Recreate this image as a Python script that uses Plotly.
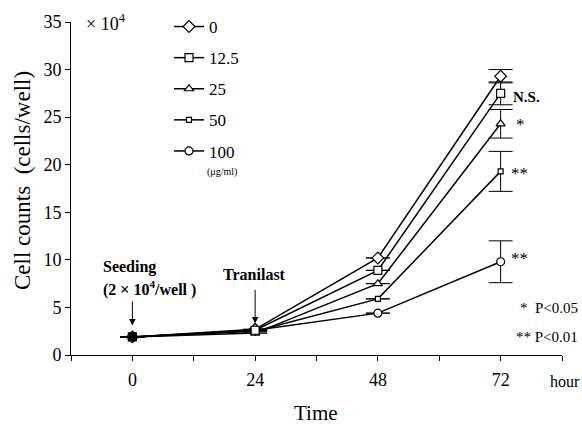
import plotly.graph_objects as go

hours = [0, 24, 48, 72]
doses = ["0", "12.5", "25", "50", "100"]
counts = {
    "0":    [1.9, 2.7, 10.2, 29.3],
    "12.5": [1.9, 2.6, 8.9, 27.5],
    "25":   [1.9, 2.3, 7.5, 24.3],
    "50":   [1.9, 2.5, 5.9, 19.3],
    "100":  [1.9, 2.6, 4.4, 9.8],
}
errors = {
    "0":    [None, None, None, 0.7],
    "12.5": [None, None, None, 1.2],
    "25":   [None, None, None, 1.5],
    "50":   [None, None, None, 2.1],
    "100":  [None, None, None, 2.2],
}
x_ticks = [-12, 0, 12, 24, 36, 48, 60, 72, 84]
x_ticktext = ["", "0", "", "24", "", "48", "", "72", ""]
y_ticks = [0, 5, 10, 15, 20, 25, 30, 35]

symbols = {"0": "diamond", "12.5": "square", "25": "triangle-up",
           "50": "square", "100": "circle"}
sizes = {"0": 9, "12.5": 8, "25": 8, "50": 5, "100": 8}

FONT = "Liberation Serif"
W, H = 582, 425
L, R, T, B = 71, 20, 22, 70
pw, ph = W - L - R, H - T - B
def px(xp): return (xp - L) / pw
def py(yp): return (H - B - yp) / ph

fig = go.Figure()

# data traces (12.5 drawn last so its filled square shows at t=0)
order = ["0", "25", "50", "100", "12.5"]
for d in order:
    fill = ["black", "white", "white", "white"] if d == "12.5" else ["white"] * 4
    fig.add_trace(go.Scatter(
        x=hours, y=counts[d], mode="lines+markers", showlegend=False,
        line=dict(color="black", width=1.5),
        marker=dict(symbol=symbols[d], size=sizes[d], color=fill,
                    line=dict(color="black", width=1.2)),
        error_y=dict(type="data", array=errors[d], visible=True,
                     color="black", thickness=1, width=12),
    ))

# legend entries
for d in doses:
    fig.add_trace(go.Scatter(
        x=[None], y=[None], mode="lines+markers", name=d, legendgroup=d,
        line=dict(color="black", width=1.5),
        marker=dict(symbol=symbols[d], size=sizes[d], color="white",
                    line=dict(color="black", width=1.2)),
    ))

def A(text, x, y, size=15, bold=False, xref="x", yref="y",
      xanchor="center", yanchor="middle", **kw):
    t = f"<b>{text}</b>" if bold else text
    fig.add_annotation(text=t, x=x, y=y, xref=xref, yref=yref, showarrow=False,
                       xanchor=xanchor, yanchor=yanchor,
                       font=dict(family=FONT, size=size, color="black"), **kw)

A("× 10<sup>4</sup>", px(84), py(22), size=18, xref="paper", yref="paper", xanchor="left")
A("(μg/ml)", px(222), py(172), size=10, xref="paper", yref="paper")
A("N.S.", 74.0, 27.1, size=15, bold=True, xanchor="left")
A("*", 74.6, 24.2, size=17, xanchor="left")
A("**", 73.6, 19.1, size=17, xanchor="left")
A("**", 73.6, 10.1, size=17, xanchor="left")
A("*  P<0.05", px(580), py(308), size=15, xref="paper", yref="paper", xanchor="right")
A("** P<0.01", px(580), py(337), size=15, xref="paper", yref="paper", xanchor="right")
A("Seeding", -6.2, 9.3, size=16, bold=True, xanchor="left")
A("(2 × 10<sup>4</sup>/well )", -6.2, 7.0, size=16, bold=True, xanchor="left")
A("Tranilast", 23.8, 8.5, size=16, bold=True)
A("hour", px(565), py(381), size=16, xref="paper", yref="paper")
A("Time", px(316), py(413), size=21, xref="paper", yref="paper")
A("Cell counts  (cells/well)", px(22), py(181), size=23, xref="paper", yref="paper",
  textangle=-90)

# arrows
for (xa, tip, tail) in [(0, 3.1, 5.8), (24, 3.3, 7.0)]:
    fig.add_annotation(x=xa, y=tip, ax=xa, ay=tail, xref="x", yref="y",
                       axref="x", ayref="y", text="", showarrow=True,
                       arrowhead=2, arrowsize=1.3, arrowwidth=1, arrowcolor="black")

fig.update_layout(
    width=W, height=H, margin=dict(l=L, r=R, t=T, b=B, autoexpand=False),
    paper_bgcolor="white", plot_bgcolor="white",
    font=dict(family=FONT, size=18, color="black"),
    showlegend=True,
    legend=dict(x=px(169), y=py(9), xanchor="left", yanchor="top",
                bgcolor="rgba(0,0,0,0)", font=dict(family=FONT, size=17, color="black"),
                traceorder="grouped", tracegroupgap=6, itemwidth=30),
    xaxis=dict(range=[-12, 84], tickvals=x_ticks, ticktext=x_ticktext,
               showline=True, linecolor="black", linewidth=1, showgrid=False,
               zeroline=False, ticks="outside", ticklen=5, tickcolor="black",
               ticklabelstandoff=3, tickfont=dict(family=FONT, size=18, color="black")),
    yaxis=dict(range=[0, 35], tickvals=y_ticks, showline=True, linecolor="black",
               linewidth=1, showgrid=False, zeroline=False, ticks="outside",
               ticklen=5, tickcolor="black", tickfont=dict(family=FONT, size=18, color="black")),
)
fig.write_html("out.html", config={"displayModeBar": False},
               post_script="document.body.style.margin='0px';")
